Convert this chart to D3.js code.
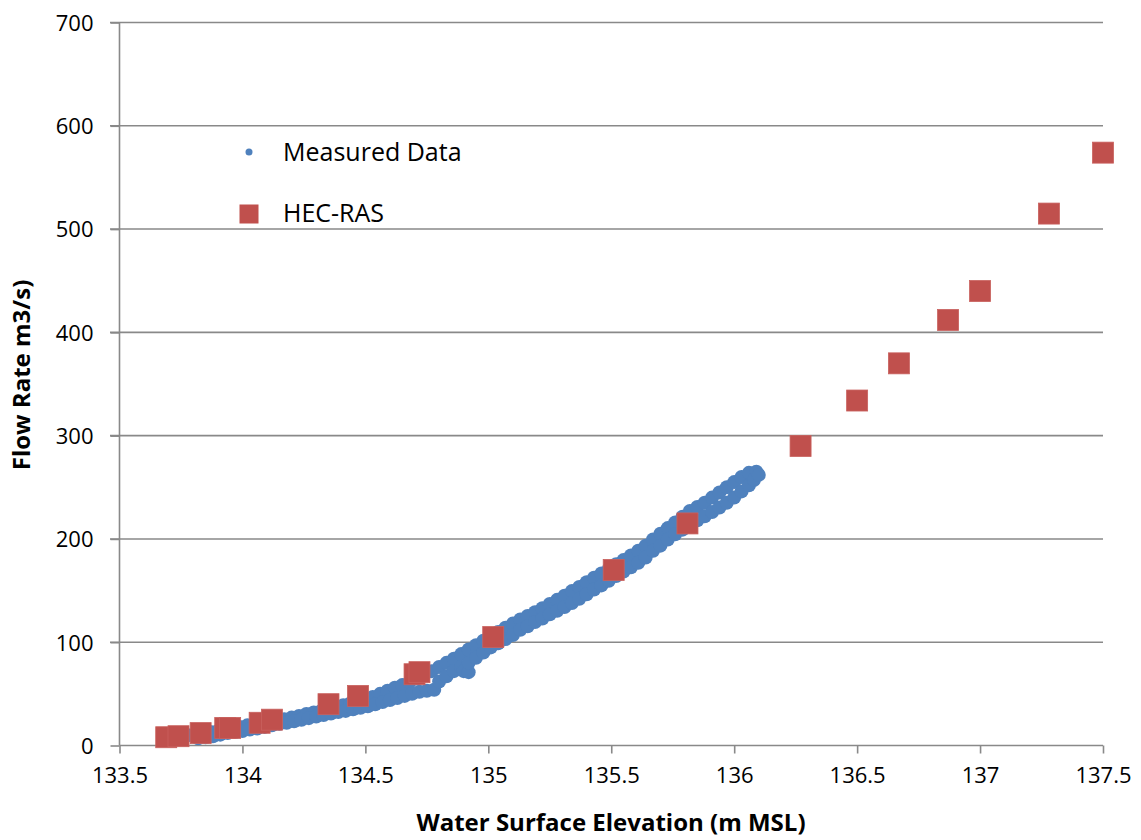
<!DOCTYPE html>
<html>
<head>
<meta charset="utf-8">
<script src="https://cdn.jsdelivr.net/npm/d3@7"></script>
<style>
  body { margin: 0; background: white; }
  text { font-family: "Open Sans", sans-serif; fill: black; }
</style>
</head>
<body>
<div id="chart"></div>
<script>
var xTicks = [133.5, 134, 134.5, 135, 135.5, 136, 136.5, 137, 137.5];
var yTicks = [0, 100, 200, 300, 400, 500, 600, 700];

// HEC-RAS rating points
var hecElev = [133.69, 133.74, 133.83, 133.93, 133.95, 134.07, 134.12, 134.35, 134.47, 134.70, 134.72,
               135.02, 135.51, 135.81, 136.27, 136.50, 136.67, 136.87, 137.00, 137.28, 137.50];
var hecFlow = [8, 9, 12, 17, 17, 22, 25, 40, 48, 69, 71,
               105, 170, 215, 290, 334, 370, 412, 440, 515, 574];

// measured stage / discharge, upper limb of the loop
var riseElev = [133.78, 133.81, 133.84, 133.87, 133.90, 133.93, 133.96, 133.99, 134.02, 134.05,
                134.08, 134.11, 134.14, 134.17, 134.20, 134.23, 134.26, 134.29, 134.32, 134.35,
                134.38, 134.41, 134.44, 134.47, 134.50, 134.53, 134.56, 134.59, 134.62, 134.65,
                134.68, 134.71, 134.74, 134.77, 134.80, 134.83, 134.86, 134.89, 134.92, 134.95,
                134.98, 135.01, 135.04, 135.07, 135.10, 135.13, 135.16, 135.19, 135.22, 135.25,
                135.28, 135.31, 135.34, 135.37, 135.40, 135.43, 135.46, 135.49, 135.52, 135.55,
                135.58, 135.61, 135.64, 135.67, 135.70, 135.73, 135.76, 135.79, 135.82, 135.85,
                135.88, 135.91, 135.94, 135.97, 136.00, 136.03, 136.06, 136.09];
var riseFlow = [10, 11, 12, 13, 14, 15, 16.5, 18, 19.5, 20.5,
                21.5, 22.5, 24, 25.5, 27, 28.5, 30.5, 32, 33.5, 35,
                37, 39, 41, 43, 45, 47, 50, 53, 56, 58.5,
                61.5, 65, 68.5, 72, 76, 80, 84, 88.5, 93, 97,
                101.5, 106, 110, 114, 118, 122, 125.5, 129, 133, 137,
                141, 145, 149.5, 153.5, 158, 162.5, 166.5, 171, 175.5, 179.5,
                184, 188.5, 193.5, 199.5, 205, 210.5, 216, 221.5, 227, 231,
                235, 240, 245, 250, 255, 260, 264, 265];

// measured stage / discharge, lower limb of the loop
var fallElev = [133.82, 133.85, 133.88, 133.91, 133.94, 133.97, 134.00, 134.03, 134.06, 134.09,
                134.12, 134.15, 134.18, 134.21, 134.24, 134.27, 134.30, 134.33, 134.36, 134.39,
                134.42, 134.45, 134.48, 134.51, 134.54, 134.57, 134.60, 134.63, 134.66, 134.69,
                134.72, 134.75, 134.78, 134.80, 134.83, 134.86, 134.89, 134.90, 134.92, 134.92, 134.95,
                134.98, 135.01, 135.04, 135.07, 135.10, 135.13, 135.16, 135.19, 135.22, 135.25,
                135.28, 135.31, 135.34, 135.37, 135.40, 135.43, 135.46, 135.49, 135.52, 135.55,
                135.58, 135.61, 135.64, 135.67, 135.70, 135.73, 135.76, 135.79, 135.82, 135.85,
                135.88, 135.91, 135.94, 135.97, 136.00, 136.03, 136.06, 136.08, 136.10];
var fallFlow = [7, 8, 9, 10.5, 12, 13, 14, 15.5, 16.5, 18,
                19.5, 21, 22, 23.5, 25, 26.5, 28, 29.5, 31, 32.5,
                33.5, 35, 36.5, 38, 40, 42, 44, 46, 48, 50,
                52, 53, 54, 62, 67, 72, 76, 72, 71, 80, 85,
                90, 95, 99, 103, 107, 112, 115.5, 119.5, 123, 127,
                130.5, 134, 138, 142, 146.5, 151, 155, 159.5, 164, 168.5,
                172.5, 177, 182, 188.5, 193.5, 199.5, 204.5, 209, 214, 218,
                222, 226, 230.5, 235, 240, 246, 252, 257, 262];

var width = 1141, height = 840;
var gridColor = "#898989";

var svg = d3.select("#chart").append("svg")
    .attr("width", width)
    .attr("height", height);

var x = d3.scaleLinear().domain([133.5, 137.5]).range([119.5, 1103]);
var y = d3.scaleLinear().domain([0, 700]).range([745.5, 22.5]);

// horizontal gridlines
svg.selectAll("line.grid")
    .data(yTicks.filter(function (d) { return d > 0; }))
    .enter().append("line")
    .attr("class", "grid")
    .attr("x1", 110).attr("x2", x(137.5))
    .attr("y1", function (d) { return y(d); })
    .attr("y2", function (d) { return y(d); })
    .style("stroke", gridColor).style("stroke-width", 1.6);

// y axis
var yAxis = svg.append("g")
    .attr("transform", "translate(" + x(133.5) + ",0)")
    .call(d3.axisLeft(y).tickValues(yTicks).tickSize(9).tickPadding(17).tickFormat(d3.format("d")));
yAxis.select(".domain").attr("d", "M0," + y(0) + "V" + y(700)).style("stroke", gridColor).style("stroke-width", 1.6);
yAxis.selectAll(".tick line").style("stroke", gridColor).style("stroke-width", 1.6);
yAxis.selectAll(".tick text").style("font-size", "22px").attr("dy", "0.36em");

// x axis
var xAxis = svg.append("g")
    .attr("transform", "translate(0," + y(0) + ")")
    .call(d3.axisBottom(x).tickValues(xTicks).tickSize(8).tickPadding(14).tickFormat(function (d) { return String(d); }));
xAxis.select(".domain").attr("d", "M" + x(133.5) + ",0H" + x(137.5)).style("stroke", gridColor).style("stroke-width", 1.6);
xAxis.selectAll(".tick line").style("stroke", gridColor).style("stroke-width", 1.6);
xAxis.selectAll(".tick text").style("font-size", "22px");
svg.selectAll(".tick text").style("font-family", "'Open Sans', sans-serif").style("fill", "black");

// measured points
var measured = riseElev.map(function (d, i) { return [d, riseFlow[i]]; })
    .concat(fallElev.map(function (d, i) { return [d, fallFlow[i]]; }));
svg.append("g").selectAll("circle")
    .data(measured)
    .enter().append("circle")
    .attr("cx", function (d) { return x(d[0]); })
    .attr("cy", function (d) { return y(d[1]); })
    .attr("r", 7)
    .style("fill", "#4F81BD");

// HEC-RAS squares
var sq = 21;
svg.append("g").selectAll("rect")
    .data(hecElev)
    .enter().append("rect")
    .attr("x", function (d) { return x(d) - sq / 2; })
    .attr("y", function (d, i) { return y(hecFlow[i]) - sq / 2; })
    .attr("width", sq).attr("height", sq)
    .style("fill", "#C0504D")
    .style("stroke", "#C9615E").style("stroke-width", 0.8);

// legend
var legend = svg.append("g");
legend.append("circle").attr("cx", 249).attr("cy", 152).attr("r", 3.5).style("fill", "#4F81BD");
legend.append("text").attr("x", 283).attr("y", 152).attr("dy", "0.35em")
    .style("font-size", "25px").text("Measured Data");
legend.append("rect").attr("x", 239.5).attr("y", 204.5).attr("width", 19).attr("height", 19)
    .style("fill", "#C0504D");
legend.append("text").attr("x", 283).attr("y", 213).attr("dy", "0.35em")
    .style("font-size", "25px").text("HEC-RAS");

// axis titles
svg.append("text")
    .attr("x", 611).attr("y", 831)
    .attr("text-anchor", "middle")
    .style("font-size", "24px").style("font-weight", "bold")
    .text("Water Surface Elevation (m MSL)");

svg.append("text")
    .attr("transform", "translate(30,375) rotate(-90)")
    .attr("text-anchor", "middle")
    .style("font-size", "24px").style("font-weight", "bold")
    .text("Flow Rate m3/s)");
</script>
</body>
</html>
